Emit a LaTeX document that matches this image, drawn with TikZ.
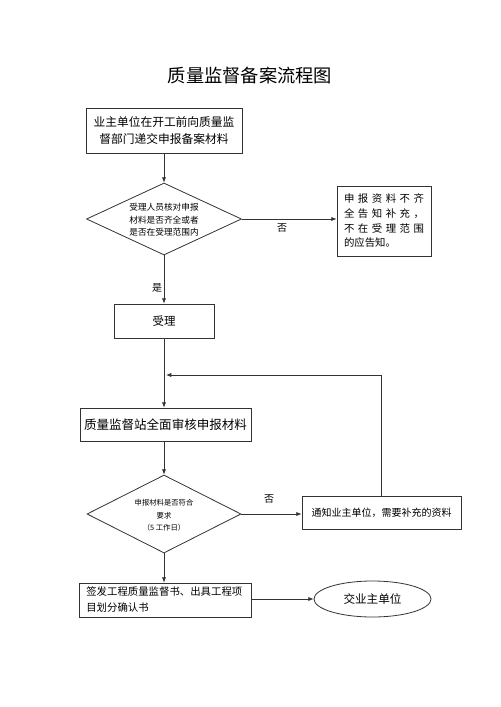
\documentclass[tikz,border=0pt]{standalone}
\usepackage{fontspec}
\setmainfont{Noto Sans CJK SC}
\usetikzlibrary{shapes.geometric,arrows.meta}
\begin{document}
\begin{tikzpicture}[x=0.75pt,y=-0.75pt,
  line/.style={draw=black!80,line width=0.6pt},
  arr/.style={line,-{Latex[length=4pt,width=3.2pt]}},
  box/.style={line,rectangle,inner sep=0pt,align=center},
  dia/.style={line,diamond,inner sep=0pt},
  dtext/.style={inner sep=0pt,align=center},
  lbl/.style={inner sep=0pt,font=\fontsize{7.5}{9}\selectfont}]
\fill[white] (0,0) rectangle (500,707);
\useasboundingbox (0,0) rectangle (500,707);

\node[font=\fontsize{13.7}{16}\selectfont] (title) at (250,76) {质量监督备案流程图};

\node[box,minimum width=117pt,minimum height=33.75pt,font=\fontsize{8.8}{12.75}\selectfont] (b1) at (164,130.5)
  {业主单位在开工前向质量监\\督部门递交申报备案材料};

\node[dia,minimum width=116.25pt,minimum height=54pt] (d1) at (164,219) {};
\node[dtext,font=\fontsize{6.5}{9.4}\selectfont] (t1) at (164,220)
  {受理人员核对申报\\材料是否齐全或者\\是否在受理范围内};

\node[box,align=left,minimum width=70.5pt,minimum height=52.5pt,font=\fontsize{7.8}{11}\selectfont] (r1) at (384,221)
  {\hbox to 60pt{申\hfill 报\hfill 资\hfill 料\hfill 不\hfill 齐}\\
   \hbox to 60pt{全\hfill 告\hfill 知\hfill 补\hfill 充\hfill ，}\\
   \hbox to 60pt{不\hfill 在\hfill 受\hfill 理\hfill 范\hfill 围}\\
   的应告知。};

\node[box,minimum width=75pt,minimum height=25.5pt,font=\fontsize{8.6}{10}\selectfont] (s) at (164,321) {受理};

\node[box,minimum width=128.25pt,minimum height=24.75pt,font=\fontsize{9.4}{11}\selectfont] (b2) at (165.5,424.5)
  {质量监督站全面审核申报材料};

\node[dia,minimum width=115.5pt,minimum height=58.5pt] (d2) at (164,514) {};
\node[dtext,font=\fontsize{5.5}{9.4}\selectfont] (t2) at (164,515.5)
  {申报材料是否符合\\要求\\（5 工作日）};

\node[box,minimum width=119.25pt,minimum height=24.75pt,font=\fontsize{7.5}{9}\selectfont] (n) at (381.5,512.5)
  {通知业主单位，需要补充的资料};

\node[box,align=left,text width=118pt,minimum width=129pt,minimum height=25.5pt,font=\fontsize{7.8}{12}\selectfont] (b3) at (165,600)
  {签发工程质量监督书、出具工程项\\目划分确认书};

\node[line,ellipse,minimum width=87.75pt,minimum height=27pt,inner sep=0pt,font=\fontsize{8.7}{10}\selectfont] (e) at (372.5,599)
  {交业主单位};

\draw[arr] (b1.south) -- (d1.north);
\draw[arr] (d1.east) -- (d1.east -| r1.west);
\node[lbl] (no1) at (282,228) {否};
\draw[arr] (d1.south) -- (s.north);
\node[lbl] (yes) at (157,288) {是};
\draw[arr] (s.south) -- (s.south |- b2.north);
\coordinate (fb) at (166,375);
\draw[arr] (n.north) |- (fb);
\draw[arr] (b2.south -| d2.north) -- (d2.north);
\draw[arr] (d2.east) -- (n.west |- d2.east);
\node[lbl] (no2) at (269,499) {否};
\draw[arr] (d2.south) -- (d2.south |- b3.north);
\draw[arr] (e.west -| b3.east) -- (e.west);
\end{tikzpicture}
\end{document}
